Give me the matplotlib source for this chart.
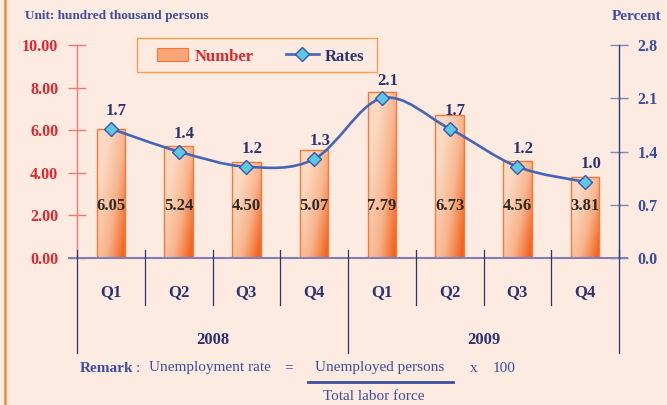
import numpy as np
import matplotlib
matplotlib.use('Agg')
import matplotlib.pyplot as plt
from matplotlib.path import Path
from matplotlib.patches import PathPatch, Rectangle
from matplotlib.colors import LinearSegmentedColormap
from matplotlib.lines import Line2D

# Data
quarters = ['Q1', 'Q2', 'Q3', 'Q4', 'Q1', 'Q2', 'Q3', 'Q4']
years = ['2008', '2009']
number = [6.05, 5.24, 4.50, 5.07, 7.79, 6.73, 4.56, 3.81]
rates = [1.7, 1.4, 1.2, 1.3, 2.1, 1.7, 1.2, 1.0]
left_ticks = [0, 2, 4, 6, 8, 10]
right_ticks = [0, 0.7, 1.4, 2.1, 2.8]

bg = '#fdeae0'
red = '#e2262c'
navy = '#2c3270'
blue_lbl = '#3b4c9c'
serif = 'Liberation Serif'

fig = plt.figure(figsize=(6.67, 4.05), dpi=100, facecolor=bg)
ax = fig.add_axes([77 / 667, 1 - 258 / 405, 542 / 667, 213 / 405])
ax.set_facecolor('none')
ax2 = ax.twinx()
ax2.set_facecolor('none')

x = np.arange(len(number))

# bars with a gradient fill
cmap = LinearSegmentedColormap.from_list('bar', ['#fcd9c2', '#f9b48c', '#f26520'])
gx, gy = np.meshgrid(np.linspace(0, 1, 40), np.linspace(0, 1, 80))
grad = np.clip(0.75 * gx ** 1.3 + 0.6 * (1 - gy) - 0.25, 0, 1)
bw = 0.42
bars = ax.bar(x, number, width=bw, facecolor='none', edgecolor='#f47a3a', linewidth=1.0, zorder=3)
for b in bars:
    x0, y0 = b.get_x(), b.get_y()
    w, h = b.get_width(), b.get_height()
    im = ax.imshow(grad, cmap=cmap, extent=[x0, x0 + w, y0, y0 + h], origin='lower',
                   aspect='auto', zorder=2, vmin=0, vmax=1)
    im.set_clip_path(b)
ax.set_xlim(-0.5, 7.5)
ax.set_ylim(0, 10)
ax2.set_ylim(0, 2.8)

for xi, v in zip(x, number):
    ax.text(xi, 2.45, f'{v:.2f}', ha='center', va='center', fontsize=12, fontweight='bold',
            family=serif, color='#2a2a2a', zorder=5)

# smooth rates curve (Catmull-Rom through the data points)
pts = np.column_stack([x, rates]).astype(float)
ext = np.vstack([pts[0], pts, pts[-1]])
verts = [tuple(pts[0])]
codes = [Path.MOVETO]
for i in range(len(pts) - 1):
    p0, p1, p2, p3 = ext[i], ext[i + 1], ext[i + 2], ext[i + 3]
    c1 = p1 + (p2 - p0) / 6
    c2 = p2 - (p3 - p1) / 6
    verts += [tuple(c1), tuple(c2), tuple(p2)]
    codes += [Path.CURVE4] * 3
ax2.add_patch(PathPatch(Path(verts, codes), fill=False, edgecolor='#4565b8', linewidth=1.9, zorder=6))
ax2.plot(x, rates, linestyle='none', marker='D', markersize=7, markerfacecolor='#5cc8e6',
         markeredgecolor='#3a58a8', markeredgewidth=1.0, zorder=7)
for xi, r in zip(x, rates):
    ax2.annotate(f'{r:.1f}', (xi, r), xytext=(4, 7), textcoords='offset points', ha='center',
                 va='bottom', fontsize=12, fontweight='bold', family=serif, color=navy, zorder=8)

# axes styling
for s in ['top', 'right', 'bottom']:
    ax.spines[s].set_visible(False)
for s in ['top', 'left', 'bottom']:
    ax2.spines[s].set_visible(False)
ax.spines['left'].set_color('#f07a7a')
ax.spines['left'].set_linewidth(1.0)
ax2.spines['right'].set_color('#2e3a80')
ax2.spines['right'].set_linewidth(1.0)

ax.set_yticks(left_ticks)
ax.set_yticklabels([f'{t:.2f}' for t in left_ticks])
ax.tick_params(axis='y', direction='inout', length=13, width=1.0, color='#f07a7a',
               labelcolor=red, labelsize=11.5, pad=7)
ax2.set_yticks(right_ticks)
ax2.set_yticklabels([f'{t:.1f}' for t in right_ticks])
ax2.tick_params(axis='y', direction='inout', length=13, width=1.0, color='#7f88b8',
                labelcolor=blue_lbl, labelsize=11.5, pad=7)
for lab in ax.get_yticklabels() + ax2.get_yticklabels():
    lab.set_family(serif)
    lab.set_fontweight('bold')
ax.set_xticks([])

# category axis below
tr = ax.get_xaxis_transform()
ax.plot([-0.62, 7.62], [0, 0], transform=tr, color='#8080b4', linewidth=1.5, clip_on=False, zorder=4)
for i in range(len(quarters) + 1):
    d = i - 0.5
    low = -0.446 if i in (0, 4, 8) else -0.22
    ax.plot([d, d], [0.037, low], transform=tr, color='#2e3470', linewidth=0.9, clip_on=False, zorder=4)
for xi, q in zip(x, quarters):
    ax.text(xi, -0.16, q, transform=tr, ha='center', va='center', fontsize=12, fontweight='bold',
            family=serif, color=navy)
for j, yr in enumerate(years):
    ax.text(1.5 + 4 * j, -0.385, yr, transform=tr, ha='center', va='center', fontsize=12,
            fontweight='bold', family=serif, color=navy)

# legend box
fig.patches.append(Rectangle((137 / 667, 1 - 72 / 405), 240 / 667, 34 / 405, transform=fig.transFigure,
                             facecolor=bg, edgecolor='#f6a04e', linewidth=1.0, zorder=10))
fig.patches.append(Rectangle((157 / 667, 1 - 61 / 405), 31 / 667, 13 / 405, transform=fig.transFigure,
                             facecolor='#f8a577', edgecolor='#f47a3a', linewidth=0.8, zorder=11))
fig.text(195 / 667, 1 - 57 / 405, 'Number', ha='left', va='center', fontsize=12, fontweight='bold',
         family=serif, color=red, zorder=11)
fig.lines.append(Line2D([286 / 667, 319 / 667], [1 - 54 / 405, 1 - 54 / 405], transform=fig.transFigure,
                        color='#4565b8', linewidth=1.9, zorder=11))
fig.lines.append(Line2D([302 / 667], [1 - 54 / 405], transform=fig.transFigure, linestyle='none',
                        marker='D', markersize=7, markerfacecolor='#5cc8e6', markeredgecolor='#3a58a8',
                        zorder=12))
fig.text(325 / 667, 1 - 57 / 405, 'Rates', ha='left', va='center', fontsize=12, fontweight='bold',
         family=serif, color=navy, zorder=11)

# titles
fig.text(25 / 667, 1 - 16 / 405, 'Unit: hundred thousand persons', ha='left', va='center', fontsize=9.5,
         fontweight='bold', family=serif, color='#3d4e9e')
fig.text(612 / 667, 1 - 16 / 405, 'Percent', ha='left', va='center', fontsize=11,
         fontweight='bold', family=serif, color='#3d4e9e')

# remark
ry = 1 - 368 / 405
rc = '#3d4e9e'
fig.text(80 / 667, ry, 'Remark', ha='left', va='center', fontsize=11, fontweight='bold',
         family=serif, color=rc)
fig.text(136 / 667, ry, ':', ha='left', va='center', fontsize=11, family=serif, color=rc)
fig.text(149 / 667, ry, 'Unemployment rate', ha='left', va='center', fontsize=11, family=serif, color=rc)
fig.text(289 / 667, ry, '=', ha='center', va='center', fontsize=11, family=serif, color=rc)
fig.text(315 / 667, ry, 'Unemployed persons', ha='left', va='center', fontsize=11, family=serif, color=rc)
fig.text(470 / 667, ry, 'x', ha='left', va='center', fontsize=11, family=serif, color=rc)
fig.text(493 / 667, ry, '100', ha='left', va='center', fontsize=11, family=serif, color=rc)
fig.lines.append(Line2D([308 / 667, 453 / 667], [1 - 382 / 405, 1 - 382 / 405], transform=fig.transFigure,
                        color=rc, linewidth=2.0))
fig.text(323 / 667, 1 - 396 / 405, 'Total labor force', ha='left', va='center', fontsize=11,
         family=serif, color=rc)

# orange line at left edge
fig.lines.append(Line2D([4.5 / 667, 4.5 / 667], [0, 1], transform=fig.transFigure, color='#f58a3a',
                        linewidth=1.8))

fig.savefig('out.png', dpi=100, facecolor=bg)
